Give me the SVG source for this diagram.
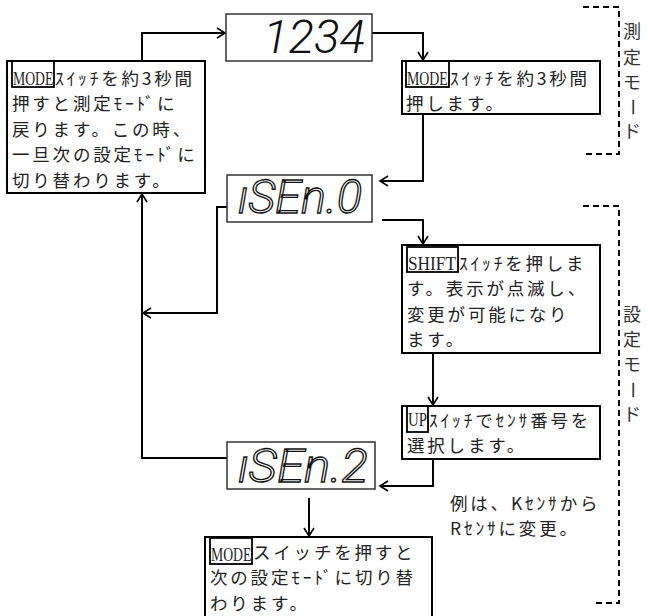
<svg xmlns="http://www.w3.org/2000/svg" width="647" height="616" viewBox="0 0 647 616">
<defs>
<marker id="ah" viewBox="-10 -6 12 12" refX="0" refY="0" markerWidth="12" markerHeight="12" markerUnits="userSpaceOnUse" orient="auto">
<path d="M-8,-5 L0,0 L-8,5" fill="none" stroke="#000" stroke-width="1.6"/>
</marker>
<style>
.box{fill:#fff;stroke:#000;stroke-width:2}
.tag{fill:none;stroke:#000;stroke-width:1.8}
.disp{fill:#fff;stroke:#333;stroke-width:1.5}
.jp{font-family:"Noto Sans CJK JP","Noto Sans CJK SC",sans-serif;font-size:17.5px;letter-spacing:2.8px;fill:#222}
.lat{font-family:"Liberation Serif",serif;font-size:19px;fill:#222}
.seg{font-family:Roboto,"Liberation Sans",sans-serif;font-style:italic;font-weight:300;font-size:46px}
.solid{fill:#111}
.hollow{fill:#fff;stroke:#111;stroke-width:1.3}
.conn{fill:none;stroke:#000;stroke-width:2}
.dash{fill:none;stroke:#000;stroke-width:2;stroke-dasharray:6 4}
.vt{font-family:"Noto Sans CJK JP",sans-serif;font-size:18px;fill:#333;text-anchor:middle}
</style>
</defs>
<g id="connectors">
<path class="conn" d="M142,61 V33 H225" marker-end="url(#ah)"/>
<path class="conn" d="M372,33 H423 V60" marker-end="url(#ah)"/>
<path class="conn" d="M423,114 V181 H380" marker-end="url(#ah)"/>
<path class="conn" d="M382,220 H423 V244" marker-end="url(#ah)"/>
<path class="conn" d="M433,353 V405" marker-end="url(#ah)"/>
<path class="conn" d="M433,459 V486 H380" marker-end="url(#ah)"/>
<path class="conn" d="M227,207 H217 V313 H143" marker-end="url(#ah)"/>
<path class="conn" d="M227,458 H142 V194" marker-end="url(#ah)"/>
<path class="conn" d="M309,498 V536" marker-end="url(#ah)"/>
</g>
<g id="measure-mode-bracket">
<path class="dash" d="M583,7 H619 V154 H583"/>
<text class="vt"><tspan x="632" y="38">測</tspan><tspan x="632" y="64">定</tspan><tspan x="632" y="89">モ</tspan><tspan x="632" y="138">ド</tspan></text>
<text class="vt" x="632" y="113" transform="rotate(90 632 107)">ー</text>
</g>
<g id="setting-mode-bracket">
<path class="dash" d="M583,206 H619 V603 H593"/>
<text class="vt"><tspan x="632" y="321">設</tspan><tspan x="632" y="346">定</tspan><tspan x="632" y="371">モ</tspan><tspan x="632" y="421">ド</tspan></text>
<text class="vt" x="632" y="396" transform="rotate(90 632 390)">ー</text>
</g>
<g id="box-return">
<rect class="box" x="7" y="61" width="198" height="132"/>
<rect class="tag" x="12" y="61" width="42" height="26"/>
<text class="lat" transform="translate(13,85) scale(0.72,1)">MODE</text>
<text class="jp"><tspan x="55" y="84.5">ｽｲｯﾁを約3秒間</tspan><tspan x="12" y="110">押すと測定ﾓｰﾄﾞに</tspan><tspan x="12" y="135.5">戻ります。この時、</tspan><tspan x="12" y="161">一旦次の設定ﾓｰﾄﾞに</tspan><tspan x="12" y="186.5">切り替わります。</tspan></text>
</g>
<g id="disp-1234">
<rect class="disp" x="226" y="14" width="146" height="47"/>
<text class="seg solid" x="263" y="53" textLength="102" lengthAdjust="spacingAndGlyphs">1234</text>
</g>
<g id="box-mode-hold">
<rect class="box" x="402" y="61" width="198" height="53"/>
<rect class="tag" x="406" y="61" width="43" height="26"/>
<text class="lat" transform="translate(407,85) scale(0.73,1)">MODE</text>
<text class="jp"><tspan x="450" y="84.5">ｽｲｯﾁを約3秒間</tspan><tspan x="406" y="110">押します。</tspan></text>
</g>
<g id="disp-isen0">
<rect class="disp" x="227" y="175" width="145" height="47"/>
<text class="seg hollow" x="238" y="213" textLength="124" lengthAdjust="spacingAndGlyphs">ıSEn.0</text>
</g>
<g id="box-shift">
<rect class="box" x="402" y="245" width="198" height="108"/>
<rect class="tag" x="407" y="247" width="51" height="25"/>
<text class="lat" transform="translate(408,270) scale(0.91,1)">SHIFT</text>
<text class="jp"><tspan x="459" y="269.5">ｽｲｯﾁを押しま</tspan><tspan x="407" y="295">す。表示が点滅し、</tspan><tspan x="407" y="320.5">変更が可能になり</tspan><tspan x="407" y="346">ます。</tspan></text>
</g>
<g id="box-up">
<rect class="box" x="402" y="406" width="198" height="53"/>
<rect class="tag" x="407" y="406" width="21" height="26"/>
<text class="lat" transform="translate(408,426) scale(0.78,1)">UP</text>
<text class="jp"><tspan x="429" y="426.5">ｽｲｯﾁでｾﾝｻ番号を</tspan><tspan x="407" y="452">選択します。</tspan></text>
</g>
<g id="note-example">
<text class="jp"><tspan x="450" y="509.5">例は、Kｾﾝｻから</tspan><tspan x="450" y="535">Rｾﾝｻに変更。</tspan></text>
</g>
<g id="disp-isen2">
<rect class="disp" x="227" y="442" width="148" height="47"/>
<text class="seg hollow" x="238" y="482" textLength="130" lengthAdjust="spacingAndGlyphs">ıSEn.2</text>
</g>
<g id="box-next">
<rect class="box" x="205" y="537" width="227" height="85"/>
<rect class="tag" x="210" y="538" width="42" height="26"/>
<text class="lat" transform="translate(211,561) scale(0.72,1)">MODE</text>
<text class="jp"><tspan x="253" y="558.5">スイッチを押すと</tspan><tspan x="210" y="584">次の設定ﾓｰﾄﾞに切り替</tspan><tspan x="210" y="609.5">わります。</tspan></text>
</g>
</svg>
